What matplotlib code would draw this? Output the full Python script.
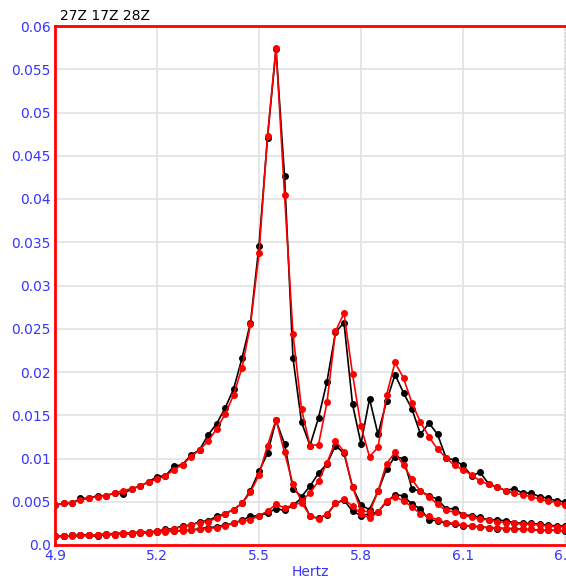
import numpy as np
from matplotlib import pyplot as plt

# frequency bins, 0.025 Hz apart
hertz = np.round(4.9 + 0.025 * np.arange(61), 3)

a_negro = [0.0046, 0.0048, 0.0048, 0.0054, 0.0054, 0.0057, 0.0057, 0.0060, 0.0059, 0.0065,
           0.0068, 0.0073, 0.0079, 0.0080, 0.0091, 0.0093, 0.0104, 0.0110, 0.0127, 0.0140,
           0.0158, 0.0180, 0.0216, 0.0257, 0.0346, 0.0471, 0.0573, 0.0427, 0.0216, 0.0142,
           0.0115, 0.0147, 0.0189, 0.0246, 0.0257, 0.0163, 0.0117, 0.0169, 0.0128, 0.0166,
           0.0197, 0.0176, 0.0157, 0.0128, 0.0141, 0.0128, 0.0101, 0.0098, 0.0092, 0.0080,
           0.0084, 0.0071, 0.0067, 0.0063, 0.0065, 0.0060, 0.0060, 0.0056, 0.0054, 0.0051,
           0.0050]
a_rojo = [0.0046, 0.0048, 0.0049, 0.0052, 0.0054, 0.0056, 0.0057, 0.0060, 0.0063, 0.0065,
          0.0068, 0.0073, 0.0076, 0.0080, 0.0087, 0.0093, 0.0102, 0.0110, 0.0120, 0.0134,
          0.0151, 0.0173, 0.0205, 0.0255, 0.0337, 0.0473, 0.0575, 0.0405, 0.0244, 0.0157,
          0.0115, 0.0116, 0.0165, 0.0247, 0.0268, 0.0198, 0.0137, 0.0102, 0.0113, 0.0173,
          0.0211, 0.0193, 0.0164, 0.0142, 0.0125, 0.0111, 0.0101, 0.0092, 0.0087, 0.0081,
          0.0074, 0.0070, 0.0067, 0.0063, 0.0060, 0.0058, 0.0056, 0.0053, 0.0051, 0.0049,
          0.0046]

b_negro = [0.0010, 0.0010, 0.0011, 0.0011, 0.0012, 0.0011, 0.0013, 0.0013, 0.0014, 0.0014,
           0.0015, 0.0015, 0.0016, 0.0018, 0.0019, 0.0022, 0.0023, 0.0027, 0.0028, 0.0033,
           0.0036, 0.0041, 0.0048, 0.0063, 0.0085, 0.0106, 0.0144, 0.0117, 0.0065, 0.0056,
           0.0068, 0.0083, 0.0094, 0.0115, 0.0106, 0.0067, 0.0046, 0.0041, 0.0062, 0.0088,
           0.0102, 0.0100, 0.0065, 0.0062, 0.0057, 0.0053, 0.0042, 0.0042, 0.0035, 0.0034,
           0.0032, 0.0029, 0.0029, 0.0028, 0.0026, 0.0025, 0.0025, 0.0024, 0.0023, 0.0022,
           0.0022]
b_rojo = [0.0010, 0.0010, 0.0011, 0.0011, 0.0011, 0.0012, 0.0013, 0.0013, 0.0014, 0.0014,
          0.0015, 0.0015, 0.0016, 0.0017, 0.0019, 0.0021, 0.0023, 0.0026, 0.0027, 0.0031,
          0.0036, 0.0041, 0.0048, 0.0061, 0.0081, 0.0115, 0.0145, 0.0107, 0.0070, 0.0051,
          0.0060, 0.0074, 0.0095, 0.0120, 0.0108, 0.0067, 0.0040, 0.0038, 0.0062, 0.0094,
          0.0107, 0.0092, 0.0076, 0.0062, 0.0056, 0.0047, 0.0040, 0.0038, 0.0035, 0.0032,
          0.0030, 0.0029, 0.0027, 0.0026, 0.0025, 0.0024, 0.0024, 0.0023, 0.0022, 0.0021,
          0.0021]

c_negro = [0.0010, 0.0010, 0.0011, 0.0011, 0.0011, 0.0010, 0.0012, 0.0012, 0.0013, 0.0013,
           0.0014, 0.0014, 0.0015, 0.0016, 0.0016, 0.0017, 0.0017, 0.0019, 0.0020, 0.0021,
           0.0023, 0.0025, 0.0029, 0.0033, 0.0034, 0.0037, 0.0042, 0.0040, 0.0046, 0.0054,
           0.0033, 0.0031, 0.0035, 0.0048, 0.0052, 0.0039, 0.0034, 0.0036, 0.0038, 0.0050,
           0.0058, 0.0057, 0.0047, 0.0042, 0.0029, 0.0028, 0.0025, 0.0024, 0.0022, 0.0022,
           0.0021, 0.0020, 0.0019, 0.0019, 0.0019, 0.0018, 0.0018, 0.0017, 0.0017, 0.0017,
           0.0016]
c_rojo = [0.0010, 0.0010, 0.0010, 0.0011, 0.0011, 0.0011, 0.0012, 0.0012, 0.0013, 0.0013,
          0.0014, 0.0014, 0.0015, 0.0015, 0.0016, 0.0016, 0.0017, 0.0018, 0.0019, 0.0020,
          0.0022, 0.0025, 0.0028, 0.0029, 0.0034, 0.0039, 0.0047, 0.0043, 0.0046, 0.0049,
          0.0034, 0.0030, 0.0036, 0.0048, 0.0053, 0.0045, 0.0036, 0.0031, 0.0038, 0.0051,
          0.0056, 0.0051, 0.0044, 0.0036, 0.0033, 0.0029, 0.0026, 0.0025, 0.0023, 0.0022,
          0.0021, 0.0020, 0.0020, 0.0019, 0.0018, 0.0018, 0.0018, 0.0017, 0.0017, 0.0017,
          0.0017]

x_ticks = [4.9, 5.2, 5.5, 5.8, 6.1, 6.4]
y_ticks = [0.0, 0.005, 0.01, 0.015, 0.02, 0.025, 0.03, 0.035, 0.04, 0.045, 0.05, 0.055, 0.06]
y_labels = ["0.0", "0.005", "0.01", "0.015", "0.02", "0.025", "0.03", "0.035",
            "0.04", "0.045", "0.05", "0.055", "0.06"]

azul = "#3535ff"

fig = plt.figure(figsize=(5.66, 5.80), dpi=100)
ax = fig.add_axes([55 / 566, 35 / 580, 510 / 566, 519 / 580])

for serie in (a_negro, b_negro, c_negro):
    ax.plot(hertz, serie, color="black", lw=1.2, marker="o", ms=4, zorder=3)
for serie in (a_rojo, b_rojo, c_rojo):
    ax.plot(hertz, serie, color="#ff0000", lw=1.2, marker="o", ms=4, zorder=4)

ax.set_xlim(4.9, 6.4)
ax.set_ylim(0, 0.06)
ax.set_xticks(x_ticks)
ax.set_xticklabels([str(t) for t in x_ticks])
ax.set_yticks(y_ticks)
ax.set_yticklabels(y_labels)
ax.tick_params(colors=azul, labelsize=10, length=0, pad=3)
ax.grid(True, color="#e2e2e2", lw=1.2)
ax.set_axisbelow(True)

for lado in ("left", "bottom", "top"):
    ax.spines[lado].set_color("#ff0000")
    ax.spines[lado].set_linewidth(2)
ax.spines["right"].set_color("#d8d8d8")
ax.spines["right"].set_linestyle(":")
ax.spines["right"].set_linewidth(1)

ax.set_xlabel("Hertz", color=azul, fontsize=10, labelpad=1)
fig.text(60 / 566, 1 - 16 / 580, "27Z 17Z 28Z", fontsize=10, color="black", va="center")

plt.savefig("out.png", dpi=100)
